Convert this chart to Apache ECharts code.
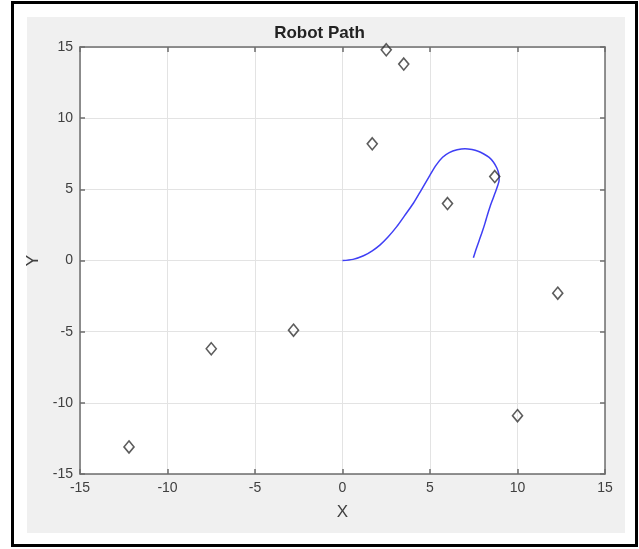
<!DOCTYPE html>
<html>
<head>
<meta charset="utf-8">
<title>Robot Path</title>
<script src="https://cdn.jsdelivr.net/npm/echarts@6/dist/echarts.min.js"></script>
<style>
  html, body { margin: 0; padding: 0; background: #ffffff; }
  #chart { width: 639px; height: 549px; }
</style>
</head>
<body>
<div id="chart"></div>
<script>
// Robot trajectory (x, y) samples
const pathX = [0, 0.6, 1.2, 1.7, 2.15, 2.6, 3.1, 3.55, 4.05, 4.5, 5.0, 5.35, 5.72, 6.1, 6.55, 7.0, 7.4, 7.75, 8.05, 8.38, 8.62, 8.82, 8.93, 8.95, 8.85, 8.71, 8.57, 8.43, 8.28, 8.14, 7.98, 7.82, 7.65, 7.48];
const pathY = [0, 0.08, 0.33, 0.68, 1.1, 1.65, 2.38, 3.15, 4.02, 4.95, 6.0, 6.7, 7.25, 7.58, 7.78, 7.86, 7.8, 7.68, 7.5, 7.24, 6.92, 6.5, 6.08, 5.66, 5.2, 4.72, 4.25, 3.78, 3.2, 2.61, 2.0, 1.44, 0.85, 0.2];

// Landmark positions
const landmarkX = [2.5, 3.5, 1.7, 6.0, 8.7, 12.3, 10.0, -2.8, -7.5, -12.2];
const landmarkY = [14.8, 13.8, 8.2, 4.0, 5.9, -2.3, -10.9, -4.9, -6.2, -13.1];

// Axis limits and tick spacing
const axisMin = -15;
const axisMax = 15;
const tickStep = 5;

const chart = echarts.init(document.getElementById('chart'), null, { renderer: 'canvas' });

const font = "'Liberation Sans', Arial, Helvetica, sans-serif";
const axisColor = '#6e6e6e';
const gridColor = '#e3e3e3';
const textColor = '#404040';

function makeAxis(type, position, showLabels, name) {
  return {
    type: 'value',
    position: position,
    min: axisMin,
    max: axisMax,
    interval: tickStep,
    name: name || '',
    nameLocation: 'middle',
    nameGap: type === 'x' ? 30 : 38,
    nameRotate: type === 'y' ? 90 : 0,
    nameTextStyle: { fontFamily: font, fontSize: 17, color: textColor },
    axisLine: { show: true, onZero: false, lineStyle: { color: axisColor, width: 1.5 } },
    axisTick: { show: true, inside: true, length: 5, lineStyle: { color: axisColor, width: 1.5 } },
    axisLabel: {
      show: showLabels,
      fontFamily: font,
      fontSize: 14,
      color: textColor,
      margin: 7
    },
    splitLine: { show: showLabels, lineStyle: { color: gridColor, width: 1 } }
  };
}

const pathData = pathX.map((x, i) => [x, pathY[i]]);
const landmarkData = landmarkX.map((x, i) => [x, landmarkY[i]]);

chart.setOption({
  animation: false,
  backgroundColor: '#ffffff',
  graphic: [
    {
      type: 'rect',
      z: -10,
      shape: { x: 12.5, y: 2.5, width: 624, height: 543 },
      style: { fill: '#ffffff', stroke: '#000000', lineWidth: 3 }
    },
    {
      type: 'rect',
      z: -9,
      shape: { x: 27, y: 17, width: 598, height: 516 },
      style: { fill: '#f0f0f0' }
    }
  ],
  title: {
    text: 'Robot Path',
    left: 'center',
    top: 20,
    textStyle: { fontFamily: font, fontSize: 17, fontWeight: 'bold', color: '#222222' }
  },
  grid: {
    left: 80,
    top: 47,
    width: 525,
    height: 427,
    show: true,
    backgroundColor: '#ffffff',
    borderWidth: 0
  },
  xAxis: [
    makeAxis('x', 'bottom', true, 'X'),
    makeAxis('x', 'top', false)
  ],
  yAxis: [
    makeAxis('y', 'left', true, 'Y'),
    makeAxis('y', 'right', false)
  ],
  series: [
    {
      type: 'line',
      name: 'path',
      xAxisIndex: 0,
      yAxisIndex: 0,
      data: pathData,
      smooth: 0.3,
      showSymbol: false,
      lineStyle: { color: '#3f3ff5', width: 1.5 },
      z: 3
    },
    {
      type: 'scatter',
      name: 'landmarks',
      xAxisIndex: 0,
      yAxisIndex: 0,
      data: landmarkData,
      symbol: 'diamond',
      symbolSize: [10, 12],
      itemStyle: { color: 'rgba(255,255,255,0)', borderColor: '#333333', borderWidth: 1.6 },
      z: 4
    }
  ]
});
</script>
</body>
</html>
